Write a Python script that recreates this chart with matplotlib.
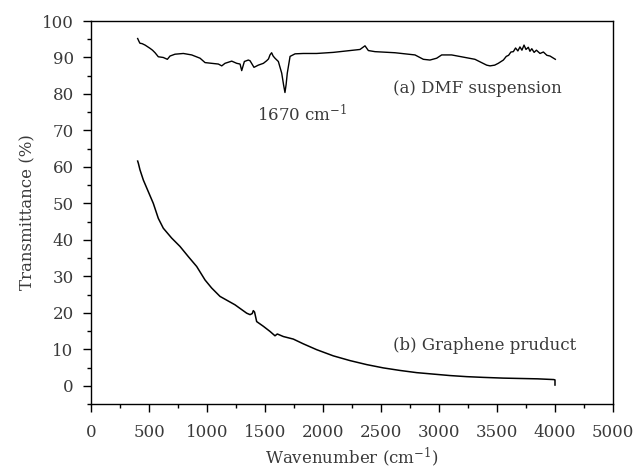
import matplotlib
matplotlib.use("Agg")
import matplotlib.pyplot as plt
from matplotlib.ticker import MultipleLocator

plt.rcParams['font.family'] = ['DejaVu Serif']
plt.rcParams['mathtext.fontset'] = 'dejavuserif'

# (a) DMF suspension
wn_a = [402, 415, 422, 440, 466, 490, 509, 530, 552, 580, 623, 658, 681, 724,
        796, 868, 940, 983, 1040, 1098, 1127, 1155, 1213, 1256, 1285, 1299,
        1322, 1356, 1371, 1405, 1442, 1486, 1514, 1530, 1543, 1557, 1570, 1586,
        1615, 1644, 1660, 1672, 1682, 1692, 1716, 1759, 1830, 1945, 2089, 2233,
        2319, 2362, 2391, 2448, 2621, 2793, 2865, 2922, 2980, 3023, 3109, 3310,
        3411, 3440, 3480, 3511, 3555, 3580, 3600, 3620, 3641, 3660, 3680, 3698,
        3715, 3733, 3750, 3770, 3784, 3800, 3820, 3840, 3871, 3900, 3930, 3957,
        4003]
tr_a = [95.2, 94.3, 93.9, 93.8, 93.4, 92.9, 92.5, 92.0, 91.3, 90.2, 90.0, 89.5,
        90.4, 90.9, 91.1, 90.7, 89.8, 88.6, 88.4, 88.2, 87.7, 88.4, 89.0, 88.4,
        88.2, 86.4, 88.9, 89.3, 89.1, 87.3, 87.9, 88.4, 89.1, 89.6, 90.7, 91.3,
        90.4, 89.8, 88.9, 85.7, 82.5, 80.4, 82.6, 85.7, 90.3, 91.0, 91.1, 91.1,
        91.4, 91.9, 92.2, 93.2, 91.9, 91.6, 91.3, 90.7, 89.5, 89.3, 89.8, 90.7,
        90.7, 89.5, 87.9, 87.7, 87.9, 88.4, 89.3, 90.3, 90.6, 91.5, 91.6, 92.6,
        91.8, 92.9, 92.0, 93.4, 92.2, 92.8, 91.7, 92.4, 91.4, 92.0, 91.1, 91.5,
        90.6, 90.4, 89.5]

# (b) Graphene product
wn_b = [402, 408, 422, 451, 494, 537, 580, 623, 695, 767, 839, 911, 983, 1040,
        1112, 1241, 1342, 1371, 1390, 1399, 1410, 1428, 1486, 1543, 1586, 1606,
        1658, 1744, 1830, 1945, 2089, 2233, 2377, 2520, 2664, 2808, 2951, 3095,
        3239, 3382, 3555, 3700, 3850, 3990, 4000, 4000]
tr_b = [61.6, 61.0, 59.2, 56.4, 53.2, 50.0, 45.9, 43.2, 40.5, 38.2, 35.4, 32.7,
        29.0, 26.8, 24.5, 22.2, 19.9, 19.5, 19.8, 20.6, 20.2, 17.6, 16.3, 14.9,
        13.7, 14.2, 13.5, 12.8, 11.5, 9.9, 8.2, 6.9, 5.8, 4.9, 4.2, 3.6, 3.2,
        2.8, 2.5, 2.3, 2.1, 2.0, 1.9, 1.7, 1.6, 0.2]

x_ticks = [0, 500, 1000, 1500, 2000, 2500, 3000, 3500, 4000, 4500]
x_tick_labels = ['0', '500', '1000', '1500', '2000', '2500', '3000', '3500',
                 '4000', '5000']
y_ticks = list(range(0, 101, 10))

text_color = '#3a3a3a'
fs = 12

fig = plt.figure(figsize=(6.37, 4.70), dpi=100)
ax = fig.add_axes([0.1429, 0.1404, 0.8194, 0.8149])

ax.plot(wn_a, tr_a, color='black', lw=1.0)
ax.plot(wn_b, tr_b, color='black', lw=1.1)

ax.set_xlim(0, 4500)
ax.set_ylim(-5, 100)
ax.set_xticks(x_ticks)
ax.set_xticklabels(x_tick_labels)
ax.set_yticks(y_ticks)
ax.xaxis.set_minor_locator(MultipleLocator(250))
ax.yaxis.set_minor_locator(MultipleLocator(5))
ax.tick_params(which='both', direction='out', top=False, right=False,
               labelsize=fs, labelcolor=text_color, width=1.0)
ax.tick_params(which='major', length=5.5)
ax.tick_params(which='minor', length=3)
ax.tick_params(axis='x', which='major', pad=9)
ax.tick_params(axis='y', which='major', pad=7)
for s in ax.spines.values():
    s.set_linewidth(1.0)

ax.text(1819, 74.5, '1670 cm$^{-1}$', fontsize=fs, color=text_color,
        ha='center', va='center')
ax.text(2603, 81.6, '(a) DMF suspension', fontsize=fs, color=text_color,
        ha='left', va='center')
ax.text(2603, 11.0, '(b) Graphene pruduct', fontsize=fs, color=text_color,
        ha='left', va='center')

ax.set_xlabel('Wavenumber (cm$^{-1}$)', fontsize=fs, color=text_color,
              labelpad=3)
ax.set_ylabel('Transmittance (%)', fontsize=fs, color=text_color,
              labelpad=4)

fig.savefig('out.png', dpi=100)
